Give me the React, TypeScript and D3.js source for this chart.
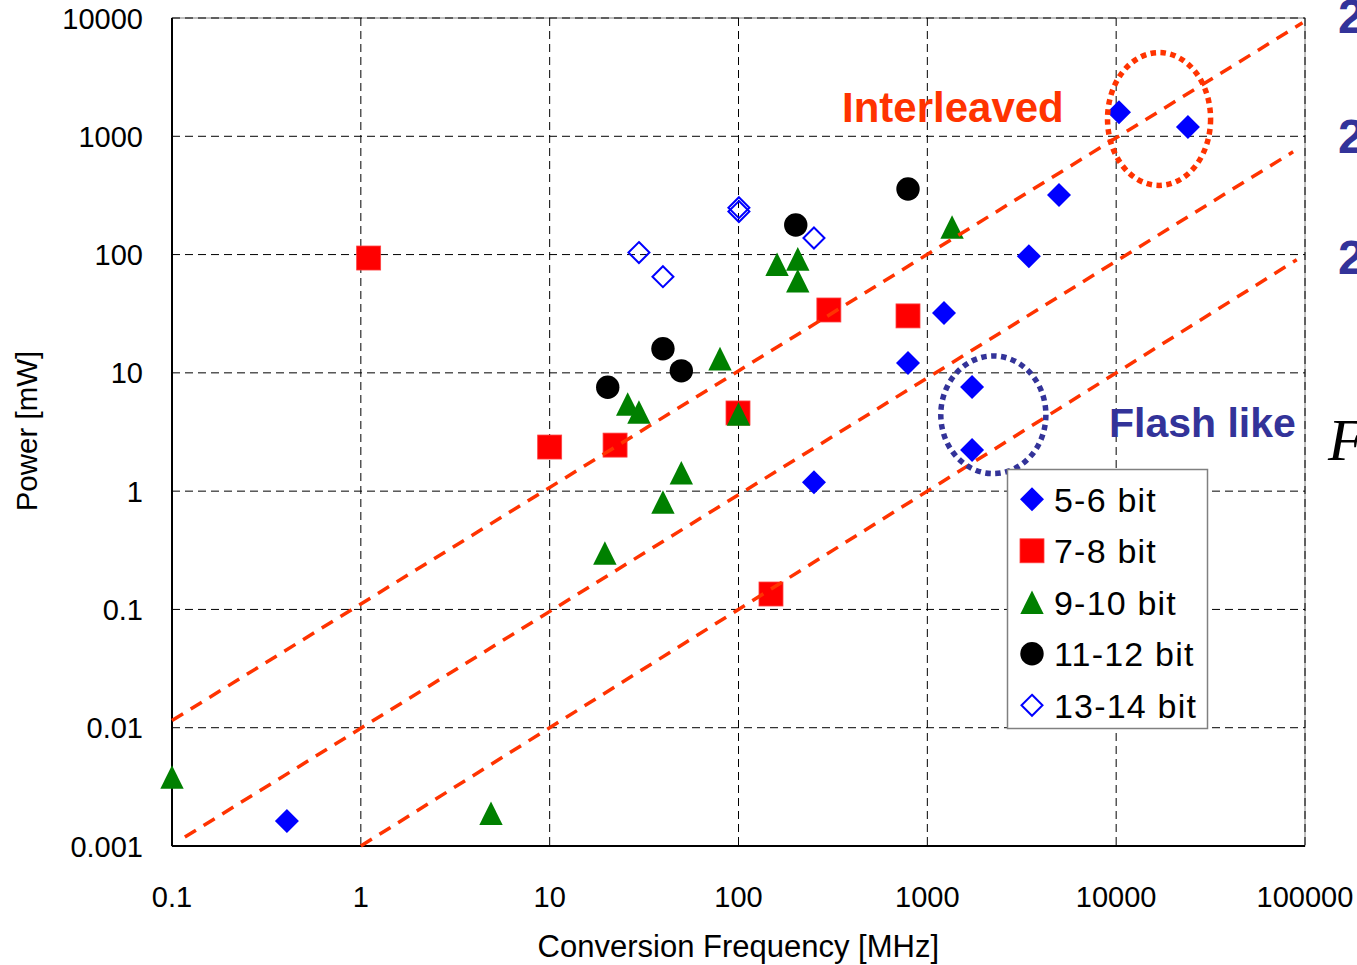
import React, { useEffect } from "react";
import * as d3 from "d3";

// ---- data (frequency MHz, power mW) ----
const bit56: [number, number][] = [
  [0.406, 0.00163], [251, 1.19], [790, 12.1], [1225, 32], [1725, 7.6], [1725, 2.23],
  [3450, 97], [4980, 319], [10350, 1600], [24000, 1200],
];
const bit78: [number, number][] = [
  [1.1, 93.5], [10.0, 2.36], [22.2, 2.45], [99.4, 4.58], [301, 34], [790, 30.3], [148.6, 0.135],
];
const bit910: [number, number][] = [
  [0.1, 0.00383], [4.89, 0.00189], [19.6, 0.3], [39.8, 0.81], [49.8, 1.43], [25.9, 5.45],
  [29.7, 4.67], [79.8, 13.2], [100, 4.49], [160, 82.8], [206, 91.9], [206, 60.1], [1352, 171],
];
const bit1112: [number, number][] = [
  [20.3, 7.55], [39.8, 16.0], [49.8, 10.4], [201, 178], [790, 358],
];
const bit1314: [number, number][] = [
  [29.7, 104], [39.8, 65], [100.5, 249], [100.5, 231], [251, 138],
];

// FOM guide lines (endpoints)
const fomLines: { f: [number, number]; p: [number, number] }[] = [
  { f: [0.1, 97000], p: [0.0115, 9100] },
  { f: [0.117, 86500], p: [0.00119, 740] },
  { f: [1, 90400], p: [0.001, 90.4] },
];

// annotation ellipses (bounding boxes in data space)
const ellipses = [
  { f: [8730, 32600], p: [366, 5357], color: "#ff3300" },
  { f: [1143, 4375], p: [1.34, 14.6], color: "#333399" },
];

const xTicks = [0.1, 1, 10, 100, 1000, 10000, 100000];
const xTickLabels = ["0.1", "1", "10", "100", "1000", "10000", "100000"];
const yTicks = [0.001, 0.01, 0.1, 1, 10, 100, 1000, 10000];
const yTickLabels = ["0.001", "0.01", "0.1", "1", "10", "100", "1000", "10000"];

const legendLabels = ["5-6 bit", "7-8 bit", "9-10 bit", "11-12 bit", "13-14 bit"];

const W = 1357, H = 965;
const L = 172, R = 1305, T = 18, B = 846;
const FONT = "'Liberation Sans', Arial, Helvetica, sans-serif";

const x = d3.scaleLog().domain([0.1, 100000]).range([L, R]);
const y = d3.scaleLog().domain([0.001, 10000]).range([B, T]);

type Kind = "diamond" | "square" | "triangle" | "circle" | "odiamond";

function Marker({ kind, cx, cy }: { kind: Kind; cx: number; cy: number }) {
  if (kind === "diamond") {
    const h = 12;
    return <path d={`M${cx},${cy - h}L${cx + h},${cy}L${cx},${cy + h}L${cx - h},${cy}Z`} fill="#0000ff" />;
  }
  if (kind === "odiamond") {
    const h = 10.5;
    return (
      <path d={`M${cx},${cy - h}L${cx + h},${cy}L${cx},${cy + h}L${cx - h},${cy}Z`} fill="none" stroke="#0000ff" strokeWidth={2} />
    );
  }
  if (kind === "square") {
    const s = 12;
    return <rect x={cx - s} y={cy - s} width={2 * s} height={2 * s} fill="#ff0000" stroke="#ff4040" strokeWidth={0.8} />;
  }
  if (kind === "triangle") {
    const w = 11.7, h = 11.8;
    return <path d={`M${cx},${cy - h}L${cx + w},${cy + h}L${cx - w},${cy + h}Z`} fill="#008000" />;
  }
  return <circle cx={cx} cy={cy} r={11.7} fill="#000000" />;
}

const series: { data: [number, number][]; kind: Kind }[] = [
  { data: bit56, kind: "diamond" },
  { data: bit78, kind: "square" },
  { data: bit910, kind: "triangle" },
  { data: bit1112, kind: "circle" },
  { data: bit1314, kind: "odiamond" },
];

export default function App() {
  useEffect(() => {
    document.body.style.margin = "0";
  }, []);
  const line = d3
    .line<[number, number]>()
    .x((d) => x(d[0]))
    .y((d) => y(d[1]));

  return (
    <svg width={W} height={H} style={{ position: "absolute", left: 0, top: 0, background: "#fff" }} fontFamily={FONT}>
      <rect x={0} y={0} width={W} height={H} fill="#fff" />
      {/* plot border */}
      <rect x={L} y={T} width={R - L} height={B - T} fill="none" stroke="#808080" strokeWidth={1} />
      {/* grid */}
      {xTicks.slice(1).map((t) => (
        <line key={"gx" + t} x1={x(t)} x2={x(t)} y1={T} y2={B} stroke="#000" strokeWidth={1} strokeDasharray="8,5" />
      ))}
      {yTicks.slice(1).map((t) => (
        <line key={"gy" + t} x1={L} x2={R} y1={y(t)} y2={y(t)} stroke="#000" strokeWidth={1} strokeDasharray="8,5" />
      ))}
      {/* axes */}
      <line x1={L} x2={L} y1={T} y2={B} stroke="#000" strokeWidth={2} />
      <line x1={L} x2={R} y1={B} y2={B} stroke="#000" strokeWidth={2} />
      {/* tick labels */}
      {yTicks.map((t, i) => (
        <text key={"yl" + t} x={143} y={y(t) + 10.5} textAnchor="end" fontSize={29} fill="#000">
          {yTickLabels[i]}
        </text>
      ))}
      {xTicks.map((t, i) => (
        <text key={"xl" + t} x={x(t)} y={907} textAnchor="middle" fontSize={29} fill="#000">
          {xTickLabels[i]}
        </text>
      ))}
      {/* axis titles */}
      <text x={738.3} y={957} textAnchor="middle" fontSize={31} fill="#000">
        Conversion Frequency [MHz]
      </text>
      <text transform={`translate(37,431) rotate(-90)`} textAnchor="middle" fontSize={29.5} fill="#000">
        Power [mW]
      </text>
      {/* markers */}
      {series.map((s, si) =>
        s.data.map((d, i) => <Marker key={`m${si}-${i}`} kind={s.kind} cx={x(d[0])} cy={y(d[1])} />)
      )}
      {/* FOM lines */}
      {fomLines.map((l, i) => (
        <path
          key={"fom" + i}
          d={line([[l.f[0], l.p[0]], [l.f[1], l.p[1]]]) || ""}
          fill="none"
          stroke="#ff3300"
          strokeWidth={3.5}
          strokeDasharray="13,9"
        />
      ))}
      {/* ellipses */}
      {ellipses.map((e, i) => {
        const x0 = x(e.f[0]), x1 = x(e.f[1]), y0 = y(e.p[1]), y1 = y(e.p[0]);
        return (
          <ellipse
            key={"el" + i}
            cx={(x0 + x1) / 2}
            cy={(y0 + y1) / 2}
            rx={(x1 - x0) / 2 - 2.5}
            ry={(y1 - y0) / 2 - 2.5}
            fill="none"
            stroke={e.color}
            strokeWidth={5.5}
            strokeDasharray="5.5,4.5"
          />
        );
      })}
      {/* annotations */}
      <text x={842} y={121.5} fontSize={42} fontWeight="bold" fill="#ff3300">
        Interleaved
      </text>
      <text x={1109} y={437} fontSize={41} fontWeight="bold" fill="#333399">
        Flash like
      </text>
      {[33, 153, 274].map((by, i) => (
        <text key={"two" + i} x={1338} y={by} fontSize={48} fontWeight="bold" fill="#333399">
          2
        </text>
      ))}
      <text x={1328} y={460} fontSize={60} fontStyle="italic" fontFamily="'Liberation Serif', 'Times New Roman', serif" fill="#000">
        F
      </text>
      {/* legend */}
      <rect x={1007.5} y={469.5} width={200} height={259} fill="#fff" stroke="#808080" strokeWidth={1.5} />
      {legendLabels.map((lab, i) => {
        const ry = 499.3 + i * 51.5;
        return (
          <g key={"lg" + i}>
            <Marker kind={series[i].kind} cx={1032} cy={ry} />
            <text x={1054} y={ry + 12.5} fontSize={34} letterSpacing={1.2} fill="#000">
              {lab}
            </text>
          </g>
        );
      })}
    </svg>
  );
}
